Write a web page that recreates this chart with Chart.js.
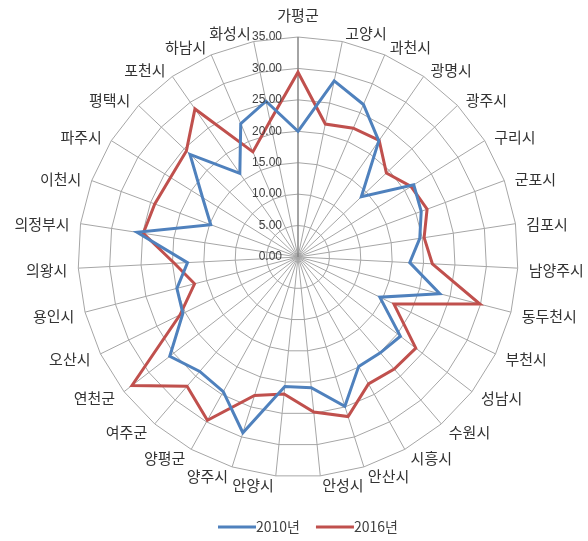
<!DOCTYPE html>
<html><head><meta charset="utf-8">
<script src="https://cdn.jsdelivr.net/npm/chart.js@4.4.1/dist/chart.umd.min.js"></script>
<style>html,body{margin:0;padding:0;background:#fff}#wrap{width:588px;height:541px;position:relative}</style>
</head><body><div id="wrap"><canvas id="c"></canvas></div>
<script>
const categories = ['가평군','고양시','과천시','광명시','광주시','구리시','군포시','김포시','남양주시','동두천시','부천시','성남시','수원시','시흥시','안산시','안성시','안양시','양주시','양평군','여주군','연천군','오산시','용인시','의왕시','의정부시','이천시','파주시','평택시','포천시','하남시','화성시'];
const values2010 = [20.0,28.6,26.4,22.5,13.9,21.7,20.9,19.6,17.8,23.3,14.5,20.6,20.1,19.9,24.9,20.9,20.7,29.3,24.5,24.0,25.8,20.4,19.9,17.6,25.9,14.8,17.9,23.7,16.2,23.1,25.3];
const values2016 = [29.4,21.6,22.3,22.6,19.4,21.2,21.9,20.3,21.4,29.9,17.0,23.7,23.5,23.1,26.6,24.8,21.9,23.1,29.7,27.1,33.4,20.9,17.0,19.7,24.9,24.3,23.9,24.5,28.7,18.2,22.1];
const seriesNames = ['2010년','2016년'];
const tickValues = [0,5,10,15,20,25,30,35];

const LABEL_FONT = '15px "Noto Sans CJK KR", sans-serif';

const drawPlugin = {
  id: 'excelLike',
  afterDraw(chart) {
    const s = chart.scales.r, ctx = chart.ctx;
    ctx.save();
    // value axis labels, right-aligned beside the vertical axis
    ctx.font = '12px "Liberation Sans", Arial, sans-serif';
    ctx.fillStyle = '#404040';
    ctx.textAlign = 'right';
    ctx.textBaseline = 'middle';
    tickValues.forEach(v => {
      const d = s.getDistanceFromCenterForValue(v);
      ctx.fillText(v.toFixed(2), s.xCenter - 16, s.yCenter - d);
    });
    // category labels
    ctx.font = LABEL_FONT;
    ctx.fillStyle = '#333333';
    categories.forEach((lab, i) => {
      const p = s.getPointPosition(i, s.drawingArea);
      const a = i * 2 * Math.PI / categories.length;
      const sn = Math.sin(a), cs = Math.cos(a);
      if (i === 0) {
        ctx.textAlign = 'center';
        ctx.fillText(lab, p.x, p.y - 22);
        return;
      }
      const dx = 1 + 10 * Math.abs(sn);
      const dy = -9 * cs + 2 * Math.abs(sn);
      if (sn > 0) { ctx.textAlign = 'left'; ctx.fillText(lab, p.x + dx, p.y + dy); }
      else { ctx.textAlign = 'right'; ctx.fillText(lab, p.x - dx, p.y + dy); }
    });
    // legend
    ctx.font = '14px "Noto Sans CJK KR", sans-serif';
    ctx.textAlign = 'left';
    const ly = 527;
    let x = 218;
    chart.data.datasets.forEach((ds) => {
      ctx.strokeStyle = ds.borderColor;
      ctx.lineWidth = 3;
      ctx.beginPath(); ctx.moveTo(x, ly); ctx.lineTo(x + 38, ly); ctx.stroke();
      ctx.fillStyle = '#404040';
      ctx.fillText(ds.label, x + 38, ly);
      x += 38 + ctx.measureText(ds.label).width + 16;
    });
    ctx.restore();
  }
};

new Chart(document.getElementById('c'), {
  type: 'radar',
  data: {
    labels: categories,
    datasets: [
      {label: seriesNames[0], data: values2010, borderColor: '#4F81BD', backgroundColor: '#4F81BD', borderWidth: 3, pointRadius: 0, fill: false, tension: 0},
      {label: seriesNames[1], data: values2016, borderColor: '#C0504D', backgroundColor: '#C0504D', borderWidth: 3, pointRadius: 0, fill: false, tension: 0}
    ]
  },
  options: {
    responsive: true,
    maintainAspectRatio: false,
    animation: false,
    layout: {padding: {top: 8, bottom: 36, left: 12, right: 0}},
    plugins: {
      legend: {display: false},
      tooltip: {enabled: false}
    },
    scales: {
      r: {
        min: 0, max: 35,
        ticks: {stepSize: 5, display: false},
        grid: {color: '#a6a6a6', lineWidth: 1},
        angleLines: {color: (c) => c.index === 0 ? '#868686' : '#a6a6a6', lineWidth: (c) => c.index === 0 ? 1.5 : 1},
        pointLabels: {color: 'rgba(0,0,0,0)', padding: 10, font: {size: 15, family: '"Noto Sans CJK KR", sans-serif'}}
      }
    }
  },
  plugins: [drawPlugin]
});
</script>
</body></html>
